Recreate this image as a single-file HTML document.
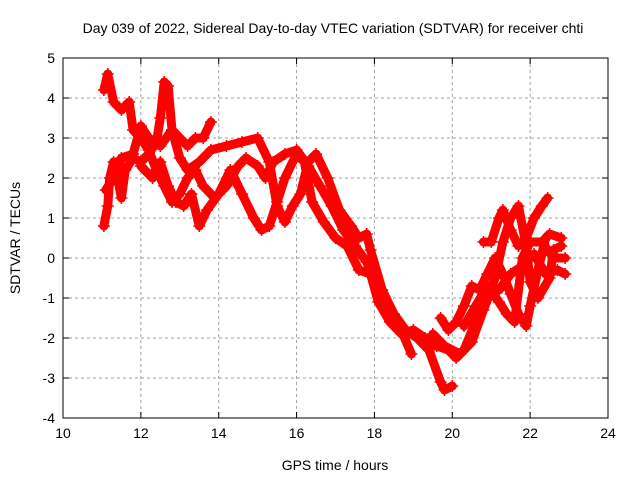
<!DOCTYPE html>
<html><head><meta charset="utf-8"><style>
body{margin:0;background:#fff}
svg{font-family:"Liberation Sans",sans-serif;font-size:14px}
</style></head><body>
<svg id="c" width="640" height="480">
<text x="333" y="33" text-anchor="middle">Day 039 of 2022, Sidereal Day-to-day VTEC variation (SDTVAR) for receiver chti</text>
<text x="335" y="470" text-anchor="middle">GPS time / hours</text>
<text transform="translate(20,238) rotate(-90)" text-anchor="middle">SDTVAR / TECUs</text>
<g id="grid"></g><g id="ticks"></g><g id="marks"></g>
<rect x="63" y="58" width="545" height="360" fill="none" stroke="#000"/>
</svg>
<script>
const xTicks=[10,12,14,16,18,20,22,24];
const yTicks=[-4,-3,-2,-1,0,1,2,3,4,5];
const track1=[[11.05,4.2],[11.15,4.6],[11.3,3.9],[11.5,3.7],[11.7,3.9],[11.8,3.2],[12.0,3.0],[12.2,2.7],[12.4,2.2],[12.6,1.8],[12.8,1.4],[13.0,1.6],[13.2,2.0],[13.4,2.2],[13.6,1.8],[13.9,1.5],[14.2,1.8],[14.5,2.3],[14.7,2.5],[15.0,2.3],[15.2,2.0],[15.4,2.4],[15.7,2.6],[16.0,2.7],[16.3,2.3],[16.6,1.8],[16.9,1.3],[17.2,0.7],[17.5,0.3],[17.8,-0.1],[18.0,-0.6],[18.3,-1.2],[18.6,-1.6],[18.95,-2.4]];
const track2=[[11.05,0.8],[11.15,1.3],[11.2,2.0],[11.3,2.4],[11.4,2.0],[11.5,1.5],[11.6,2.2],[11.8,2.5],[12.0,2.4],[12.2,2.6],[12.4,2.9],[12.5,3.5],[12.6,4.4],[12.7,4.3],[12.8,3.2],[13.0,3.0],[13.2,2.8],[13.4,3.0],[13.6,3.0],[13.8,3.4]];
const track3=[[11.1,1.7],[11.3,2.0],[11.5,2.5],[11.8,2.6],[12.0,3.3],[12.2,3.0],[12.5,2.8],[12.8,3.2],[13.0,2.5],[13.2,2.2],[13.5,2.4],[13.8,2.7],[14.2,2.8],[14.6,2.9],[15.0,3.0],[15.3,2.4],[15.5,1.3],[15.7,0.9],[15.9,1.3],[16.1,1.6],[16.3,2.4],[16.5,2.6],[16.8,2.0],[17.1,1.2],[17.4,0.8],[17.6,0.5],[17.8,0.6],[17.9,0.2],[18.2,-0.8],[18.5,-1.4],[18.8,-1.8],[19.1,-2.0],[19.4,-2.3],[19.7,-3.1],[19.8,-3.3],[20.0,-3.2]];
const track4=[[12.0,2.3],[12.3,2.0],[12.5,2.4],[12.7,1.8],[12.9,1.4],[13.1,1.3],[13.3,1.6],[13.5,0.8],[13.7,1.2],[14.0,1.6],[14.3,2.2],[14.6,1.6],[14.9,1.0],[15.1,0.7],[15.3,0.8],[15.5,1.4],[15.7,2.0],[16.0,2.6],[16.2,2.4],[16.4,1.4],[16.7,0.9],[17.0,0.5],[17.3,0.3],[17.6,-0.3],[17.9,-0.4],[18.1,-1.1],[18.4,-1.6],[18.7,-1.9],[19.0,-1.8],[19.3,-2.0],[19.6,-2.2],[19.9,-2.3],[20.1,-2.5],[20.3,-2.3],[20.6,-1.6],[20.9,-1.0],[21.1,-0.5],[21.3,0.4],[21.5,1.0],[21.7,1.3],[21.9,0.3],[22.0,-0.6],[22.2,-1.0],[22.5,-0.5],[22.6,0.2],[22.8,0.3]];
const track5=[[19.7,-1.5],[19.9,-1.8],[20.1,-1.6],[20.3,-1.2],[20.5,-0.7],[20.7,-0.8],[20.9,-0.4],[21.1,0.0],[21.3,-0.4],[21.5,-0.9],[21.7,-1.4],[21.9,-1.7],[22.0,-1.2],[22.2,-0.3],[22.4,0.5],[22.5,0.6],[22.8,0.5]];
const track6=[[20.8,0.4],[21.0,0.4],[21.2,1.0],[21.3,1.2],[21.5,0.7],[21.7,0.3],[21.9,0.5],[22.1,1.0],[22.3,1.3],[22.45,1.5]];
const track7=[[19.5,-1.9],[19.8,-2.2],[20.2,-2.4],[20.5,-2.1],[20.8,-1.3],[21.0,-0.8],[21.2,-0.8],[21.5,-0.4],[21.8,-0.2],[22.1,0.1],[22.4,-0.4],[22.7,-0.3],[22.9,-0.4]];
const track8=[[20.3,-1.7],[20.6,-1.2],[20.9,-0.7],[21.2,-1.1],[21.4,-1.4],[21.6,-1.6],[21.8,0.0],[22.0,0.4],[22.3,0.4],[22.6,0.0],[22.9,0.0]];
const tracks=[track1,track2,track3,track4,track5,track6,track7,track8];
const L=63,R=608,T=58,B=418,X0=10,X1=24,Y0=-4,Y1=5;
function sx(v){return L+(v-X0)/(X1-X0)*(R-L);}
function sy(v){return B-(v-Y0)/(Y1-Y0)*(B-T);}
const NS='http://www.w3.org/2000/svg';
function mk(tag,a,p){const e=document.createElementNS(NS,tag);for(const k in a)e.setAttribute(k,a[k]);p.appendChild(e);return e;}
const grid=document.getElementById('grid'),tk=document.getElementById('ticks'),mg=document.getElementById('marks');
xTicks.forEach(v=>{const x=sx(v);
 if(v>X0&&v<X1){const g=mk('line',{x1:x,x2:x,y1:T,y2:B,stroke:'#a0a0a0','stroke-dasharray':'3,3'},grid);
 
 }
 mk('line',{x1:x,x2:x,y1:B,y2:B-6,stroke:'#000'},tk);mk('line',{x1:x,x2:x,y1:T,y2:T+6,stroke:'#000'},tk);
 const t=mk('text',{x:x,y:B+20,'text-anchor':'middle'},tk);t.textContent=v;
 
 });
yTicks.forEach(v=>{const y=sy(v);
 if(v>Y0&&v<Y1){const g=mk('line',{x1:L,x2:R,y1:y,y2:y,stroke:'#a0a0a0','stroke-dasharray':'3,3'},grid);
 
 }
 mk('line',{x1:L,x2:L+6,y1:y,y2:y,stroke:'#000'},tk);mk('line',{x1:R,x2:R-6,y1:y,y2:y,stroke:'#000'},tk);
 const t=mk('text',{x:L-8,y:y+5,'text-anchor':'end'},tk);t.textContent=v;
 
 });
tracks.forEach((tr,i)=>{
 const g=mk('g',{},mg);
 
 
 mk('polyline',{points:tr.map(p=>sx(p[0])+','+sy(p[1])).join(' '),fill:'none',stroke:'#f00','stroke-width':9,'stroke-linejoin':'round','stroke-linecap':'round'},g);
 tr.forEach(p=>{const x=sx(p[0]),y=sy(p[1]);
  mk('path',{d:`M${x-6},${y}h12M${x},${y-6}v12`,stroke:'#f00','stroke-width':1.5},g);});
});
</script>
</body></html>
